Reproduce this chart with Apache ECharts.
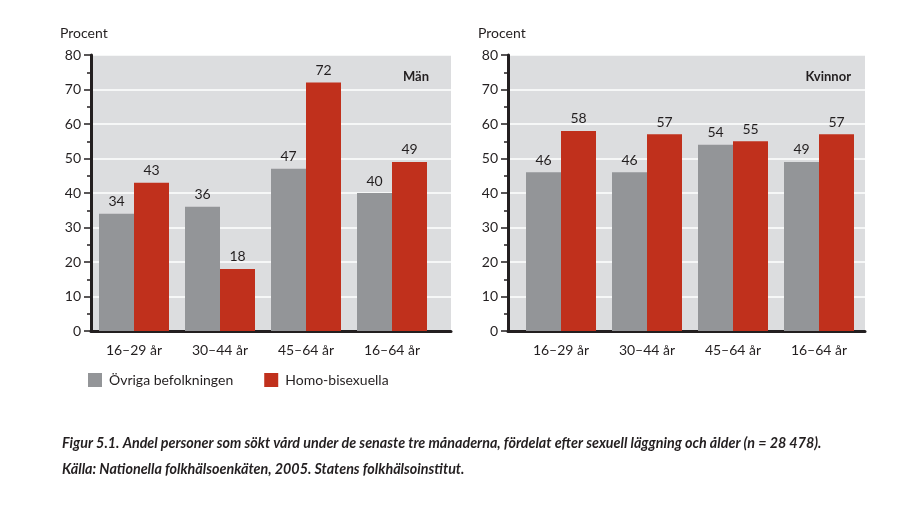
<!DOCTYPE html>
<html><head><meta charset="utf-8">
<script src="https://cdn.jsdelivr.net/npm/echarts@6/dist/echarts.min.js"></script>
<style>html,body{margin:0;padding:0;background:#fff}#c{width:904px;height:531px}</style>
</head><body><div id="c"></div>
<script>
const categories = ['16–29 år', '30–44 år', '45–64 år', '16–64 år'];
const seriesNames = ['Övriga befolkningen', 'Homo-bisexuella'];
const manOvriga = [34, 36, 47, 40];
const manHomo = [43, 18, 72, 49];
const kvinnorOvriga = [46, 46, 54, 49];
const kvinnorHomo = [58, 57, 55, 57];
const yTicks = [0, 10, 20, 30, 40, 50, 60, 70, 80];
const panelTitles = ['Män', 'Kvinnor'];
const captionLines = [
  'Figur 5.1. Andel personer som sökt vård under de senaste tre månaderna, fördelat efter sexuell läggning och ålder (n = 28 478).',
  'Källa: Nationella folkhälsoenkäten, 2005. Statens folkhälsoinstitut.'
];

const FONT = 'Lato';
const TXT = '#231f20';
const GRAY = '#939598';
const RED = '#c0301c';
const BG = '#dcdddf';

const chart = echarts.init(document.getElementById('c'), null, {renderer: 'canvas'});

const bgGrids = [
  {left: 91, top: 55, width: 360, height: 276},
  {left: 508, top: 55, width: 357, height: 276}
];
const barGrids = [
  {left: 91, top: 55, width: 344, height: 276},
  {left: 518, top: 55, width: 344, height: 276}
];

const grid = [];
bgGrids.forEach(g => grid.push(Object.assign({show: true, backgroundColor: BG, borderWidth: 0}, g)));
barGrids.forEach(g => grid.push(Object.assign({show: false}, g)));

const xAxis = [], yAxis = [];
[0, 1].forEach(i => {
  xAxis.push({
    type: 'value', gridIndex: i, min: 0, max: 1,
    axisLine: {show: true, onZero: false, lineStyle: {color: TXT, width: 3}},
    axisTick: {show: false}, axisLabel: {show: false}, splitLine: {show: false}
  });
  yAxis.push({
    type: 'value', gridIndex: i, min: yTicks[0], max: yTicks[yTicks.length - 1], interval: 10,
    axisLine: {show: true, lineStyle: {color: TXT, width: 3}},
    axisTick: {show: true, length: 7, lineStyle: {color: TXT, width: 1.5}},
    minorTick: {show: true, splitNumber: 2, length: 4, lineStyle: {color: TXT, width: 1.5}},
    axisLabel: {color: TXT, fontFamily: FONT, fontSize: 14, margin: 10},
    splitLine: {show: true, lineStyle: {color: '#ffffff', width: 1.5}}
  });
});
[2, 3].forEach(i => {
  xAxis.push({
    type: 'category', gridIndex: i, data: categories,
    axisLine: {show: false}, axisTick: {show: false},
    axisLabel: {color: TXT, fontFamily: FONT, fontSize: 14, margin: 12}
  });
  yAxis.push({
    type: 'value', gridIndex: i, min: 0, max: 80, show: false
  });
});

function barSeries(name, data, idx, color) {
  return {
    name: name, type: 'bar', xAxisIndex: idx, yAxisIndex: idx, data: data,
    barWidth: 35, barGap: '0%',
    itemStyle: {color: color},
    label: {show: true, position: 'top', distance: 5, color: TXT, fontFamily: FONT, fontSize: 14},
    z: 3
  };
}

const series = [
  barSeries(seriesNames[0], manOvriga, 2, GRAY),
  barSeries(seriesNames[1], manHomo, 2, RED),
  barSeries(seriesNames[0], kvinnorOvriga, 3, GRAY),
  barSeries(seriesNames[1], kvinnorHomo, 3, RED)
];

const capStyle = {color: TXT, fontFamily: FONT, fontSize: 14.3, fontStyle: 'italic', fontWeight: 'bold'};
const title = [
  {text: 'Procent', left: 55, top: 21, textStyle: {color: TXT, fontFamily: FONT, fontSize: 14, fontWeight: 'normal'}},
  {text: 'Procent', left: 473, top: 21, textStyle: {color: TXT, fontFamily: FONT, fontSize: 14, fontWeight: 'normal'}},
  {text: panelTitles[0], right: 904 - 434, top: 65, textStyle: {color: TXT, fontFamily: FONT, fontSize: 13, fontWeight: 'bold'}},
  {text: panelTitles[1], right: 904 - 856, top: 65, textStyle: {color: TXT, fontFamily: FONT, fontSize: 13, fontWeight: 'bold'}},
  {text: captionLines[0], left: 57, top: 431, textStyle: capStyle},
  {text: captionLines[1], left: 57, top: 457, textStyle: capStyle}
];

chart.setOption({
  animation: false,
  title: title,
  grid: grid,
  xAxis: xAxis,
  yAxis: yAxis,
  legend: {
    data: seriesNames, left: 83, top: 368, icon: 'rect', itemWidth: 14, itemHeight: 14, itemGap: 31,
    textStyle: {color: TXT, fontFamily: FONT, fontSize: 14, padding: [0, 0, 0, 2]}
  },
  series: series
});
</script>
</body></html>
